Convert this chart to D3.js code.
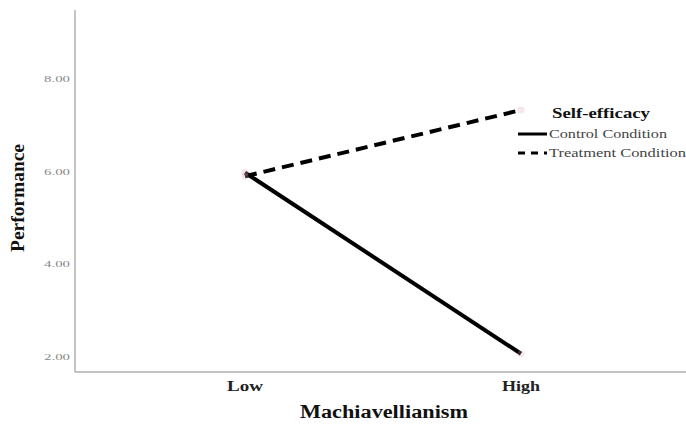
<!DOCTYPE html>
<html><head><meta charset="utf-8">
<script src="https://cdn.jsdelivr.net/npm/d3@7"></script>
<style>body{margin:0;background:#fff}svg{display:block}</style>
</head><body>
<script>
const categories = ["Low", "High"];
const seriesNames = ["Control Condition", "Treatment Condition"];
const controlValues = [5.98, 2.07];
const treatmentValues = [5.9, 7.33];
const yTicks = [2, 4, 6, 8];
const legendTitle = "Self-efficacy";
const xTitle = "Machiavellianism";
const yTitle = "Performance";

const W = 686, H = 424;
const svg = d3.select("body").append("svg").attr("width", W).attr("height", H);
const serif = "Liberation Serif, DejaVu Serif, serif";

const x = d3.scalePoint().domain(categories).range([245, 521]);
const y = d3.scaleLinear().domain([2, 8]).range([357, 79]);

const axisLeft = 75, axisBottom = 372, axisTop = 10, axisRight = 686;

svg.append("line").attr("x1", axisLeft).attr("x2", axisLeft).attr("y1", axisTop).attr("y2", axisBottom)
  .attr("stroke", "#b0b0b0").attr("stroke-width", 1.5);
svg.append("line").attr("x1", axisLeft).attr("x2", axisRight).attr("y1", axisBottom).attr("y2", axisBottom)
  .attr("stroke", "#b0b0b0").attr("stroke-width", 1.5);

svg.selectAll(".yt").data(yTicks).enter().append("text")
  .attr("x", 70).attr("y", d => y(d) + 3)
  .attr("text-anchor", "end").attr("font-family", serif).attr("font-size", 9)
  .attr("fill", "#888").attr("textLength", 26).attr("lengthAdjust", "spacingAndGlyphs")
  .text(d => d.toFixed(2));

svg.selectAll(".xt").data(categories).enter().append("text")
  .attr("x", d => x(d)).attr("y", 391)
  .attr("text-anchor", "middle").attr("font-family", serif).attr("font-size", 15)
  .attr("font-weight", "bold").attr("fill", "#222")
  .attr("textLength", d => d === "Low" ? 36 : 38).attr("lengthAdjust", "spacingAndGlyphs")
  .text(d => d);

svg.append("text").attr("x", 384).attr("y", 418).attr("text-anchor", "middle")
  .attr("font-family", serif).attr("font-size", 18).attr("font-weight", "bold").attr("fill", "#111")
  .attr("textLength", 168).attr("lengthAdjust", "spacingAndGlyphs")
  .text(xTitle);
svg.append("text").attr("transform", "translate(24,198) rotate(-90)").attr("text-anchor", "middle")
  .attr("font-family", serif).attr("font-size", 18).attr("font-weight", "bold").attr("fill", "#111")
  .attr("textLength", 108).attr("lengthAdjust", "spacingAndGlyphs")
  .text(yTitle);

const line = d3.line().x((d, i) => x(categories[i])).y(d => y(d));

svg.append("path").datum(controlValues).attr("d", line)
  .attr("fill", "none").attr("stroke", "#000").attr("stroke-width", 4);
svg.append("path").datum(treatmentValues).attr("d", line)
  .attr("fill", "none").attr("stroke", "#000").attr("stroke-width", 4)
  .attr("stroke-dasharray", "12,7");

[controlValues, treatmentValues].forEach(vals => {
  svg.selectAll(null).data(vals).enter().append("circle")
    .attr("cx", (d, i) => x(categories[i])).attr("cy", d => y(d)).attr("r", 3.5)
    .attr("fill", "#d9a0b0").attr("opacity", 0.25);
});

svg.append("text").attr("x", 552).attr("y", 118).attr("font-family", serif).attr("font-size", 15)
  .attr("font-weight", "bold").attr("fill", "#111")
  .attr("textLength", 98).attr("lengthAdjust", "spacingAndGlyphs").text(legendTitle);
const lg = svg.append("g");
seriesNames.forEach((name, i) => {
  const ly = 134 + i * 19;
  lg.append("line").attr("x1", 518).attr("x2", 547).attr("y1", ly).attr("y2", ly)
    .attr("stroke", "#000").attr("stroke-width", 3)
    .attr("stroke-dasharray", i === 1 ? "7,6" : null);
  lg.append("text").attr("x", 549).attr("y", ly + 4).attr("font-family", serif).attr("font-size", 12)
    .attr("fill", "#444").attr("textLength", i === 0 ? 118 : 137).attr("lengthAdjust", "spacingAndGlyphs")
    .text(name);
});
</script>
</body></html>
